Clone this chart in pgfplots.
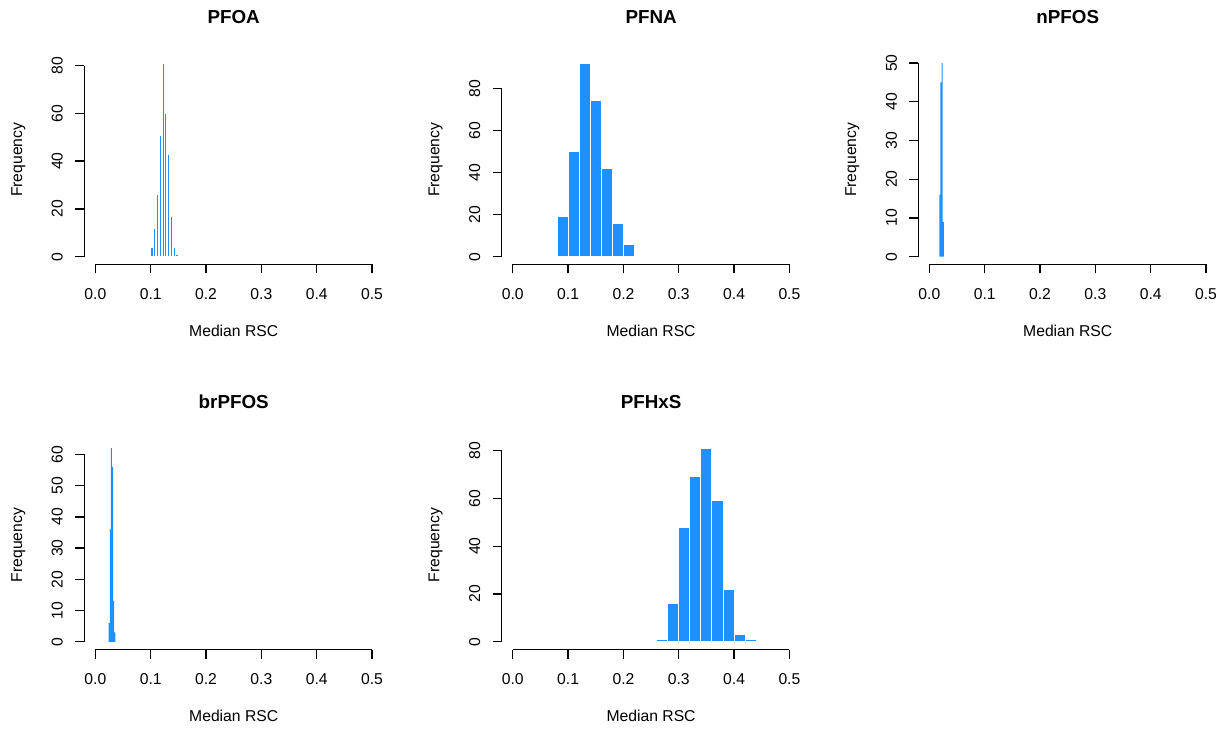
\documentclass[border=0pt]{standalone}
\usepackage{fontspec}
\setmainfont{Liberation Sans}
\usepackage{pgfplots}
\pgfplotsset{compat=1.18}
\definecolor{dodger}{HTML}{1E90FF}

\pgfplotsset{
  rhist/.style={
    scale only axis, width=149.4pt, height=104.5pt,
    anchor=south west, clip=false,
    xmin=-0.02, xmax=0.52,
    axis lines*=left, axis line style={draw=none},
    tick align=outside, major tick length=4.5pt,
    tick style={black, line width=0.65pt},
    xtick={0,0.1,0.2,0.3,0.4,0.5},
    xticklabels={0.0,0.1,0.2,0.3,0.4,0.5},
    minor tick num=0,
    /pgf/number format/assume math mode=true,
    tick label style={font=\fontsize{7.85}{9}\selectfont, inner sep=0pt},
    xticklabel style={anchor=north},
    yticklabel style={rotate=90, anchor=south},
    xticklabel shift=7.45pt, yticklabel shift=6pt,
    label style={font=\fontsize{7.85}{9}\selectfont},
    xlabel={Median RSC}, ylabel={Frequency},
    xlabel style={at={(axis description cs:0.5,-0.3187)}, anchor=center},
    ylabel style={at={(axis description cs:-0.2209,0.5)}, anchor=center},
    title style={at={(axis description cs:0.5,1.128)}, anchor=center, yshift=0pt,
                 font=\bfseries\fontsize{9.4}{11}\selectfont},
  },
  hbar/.style={ybar, bar shift=0pt, fill=dodger, draw=white, line width=0.5pt},
  hbarthin/.style={ybar, bar shift=0pt, fill=dodger, draw=none},
}

% R-style axis lines: x from 0 to 0.5, y from 0 to the last tick
\newcommand{\raxes}[1]{%
  \draw[line width=0.65pt] ({axis cs:0,0}|-{rel axis cs:0,0}) -- ({axis cs:0.5,0}|-{rel axis cs:0,0});
  \draw[line width=0.65pt] ({rel axis cs:0,0}|-{axis cs:0,0}) -- ({rel axis cs:0,0}|-{axis cs:0,#1});
}

\begin{document}
\begin{tikzpicture}
\useasboundingbox (0,0) rectangle (612.5pt,364.5pt);

% PFOA
\begin{axis}[rhist, at={(42.15pt,232.3pt)}, title={PFOA},
  ymin=-3.24, ymax=84.24, ytick={0,20,40,60,80}]
\addplot[hbar, bar width=0.005, line width=0.8pt] coordinates {
  (0.1025,4) (0.1075,12) (0.1125,26) (0.1175,51) (0.1225,81)
  (0.1275,60) (0.1325,43) (0.1375,17) (0.1425,4) (0.1475,1)
};
\raxes{80}
\end{axis}

% PFNA
\begin{axis}[rhist, at={(250.85pt,232.3pt)}, title={PFNA},
  ymin=-3.68, ymax=95.68, ytick={0,20,40,60,80}]
\addplot[hbar, bar width=0.02] coordinates {
  (0.09,19) (0.11,50) (0.13,92) (0.15,74) (0.17,42) (0.19,16) (0.21,6)
};
\raxes{80}
\end{axis}

% nPFOS
\begin{axis}[rhist, at={(459.15pt,232.3pt)}, title={nPFOS},
  ymin=-2, ymax=52, ytick={0,10,20,30,40,50}]
\addplot[hbarthin, bar width=0.002] coordinates {
  (0.019,16) (0.021,45) (0.023,50) (0.025,9)
};
\raxes{50}
\end{axis}

% brPFOS
\begin{axis}[rhist, at={(42.15pt,39.75pt)}, title={brPFOS},
  ymin=-2.48, ymax=64.48, ytick={0,10,20,30,40,50,60}]
\addplot[hbarthin, bar width=0.002] coordinates {
  (0.025,6) (0.027,36) (0.029,62) (0.031,56) (0.033,13) (0.035,3)
};
\raxes{60}
\end{axis}

% PFHxS
\begin{axis}[rhist, at={(250.85pt,39.75pt)}, title={PFHxS},
  ymin=-3.24, ymax=84.24, ytick={0,20,40,60,80}]
\addplot[hbar, bar width=0.02] coordinates {
  (0.27,1) (0.29,16) (0.31,48) (0.33,69) (0.35,81)
  (0.37,59) (0.39,22) (0.41,3) (0.43,1)
};
\raxes{80}
\end{axis}
\end{tikzpicture}
\end{document}
